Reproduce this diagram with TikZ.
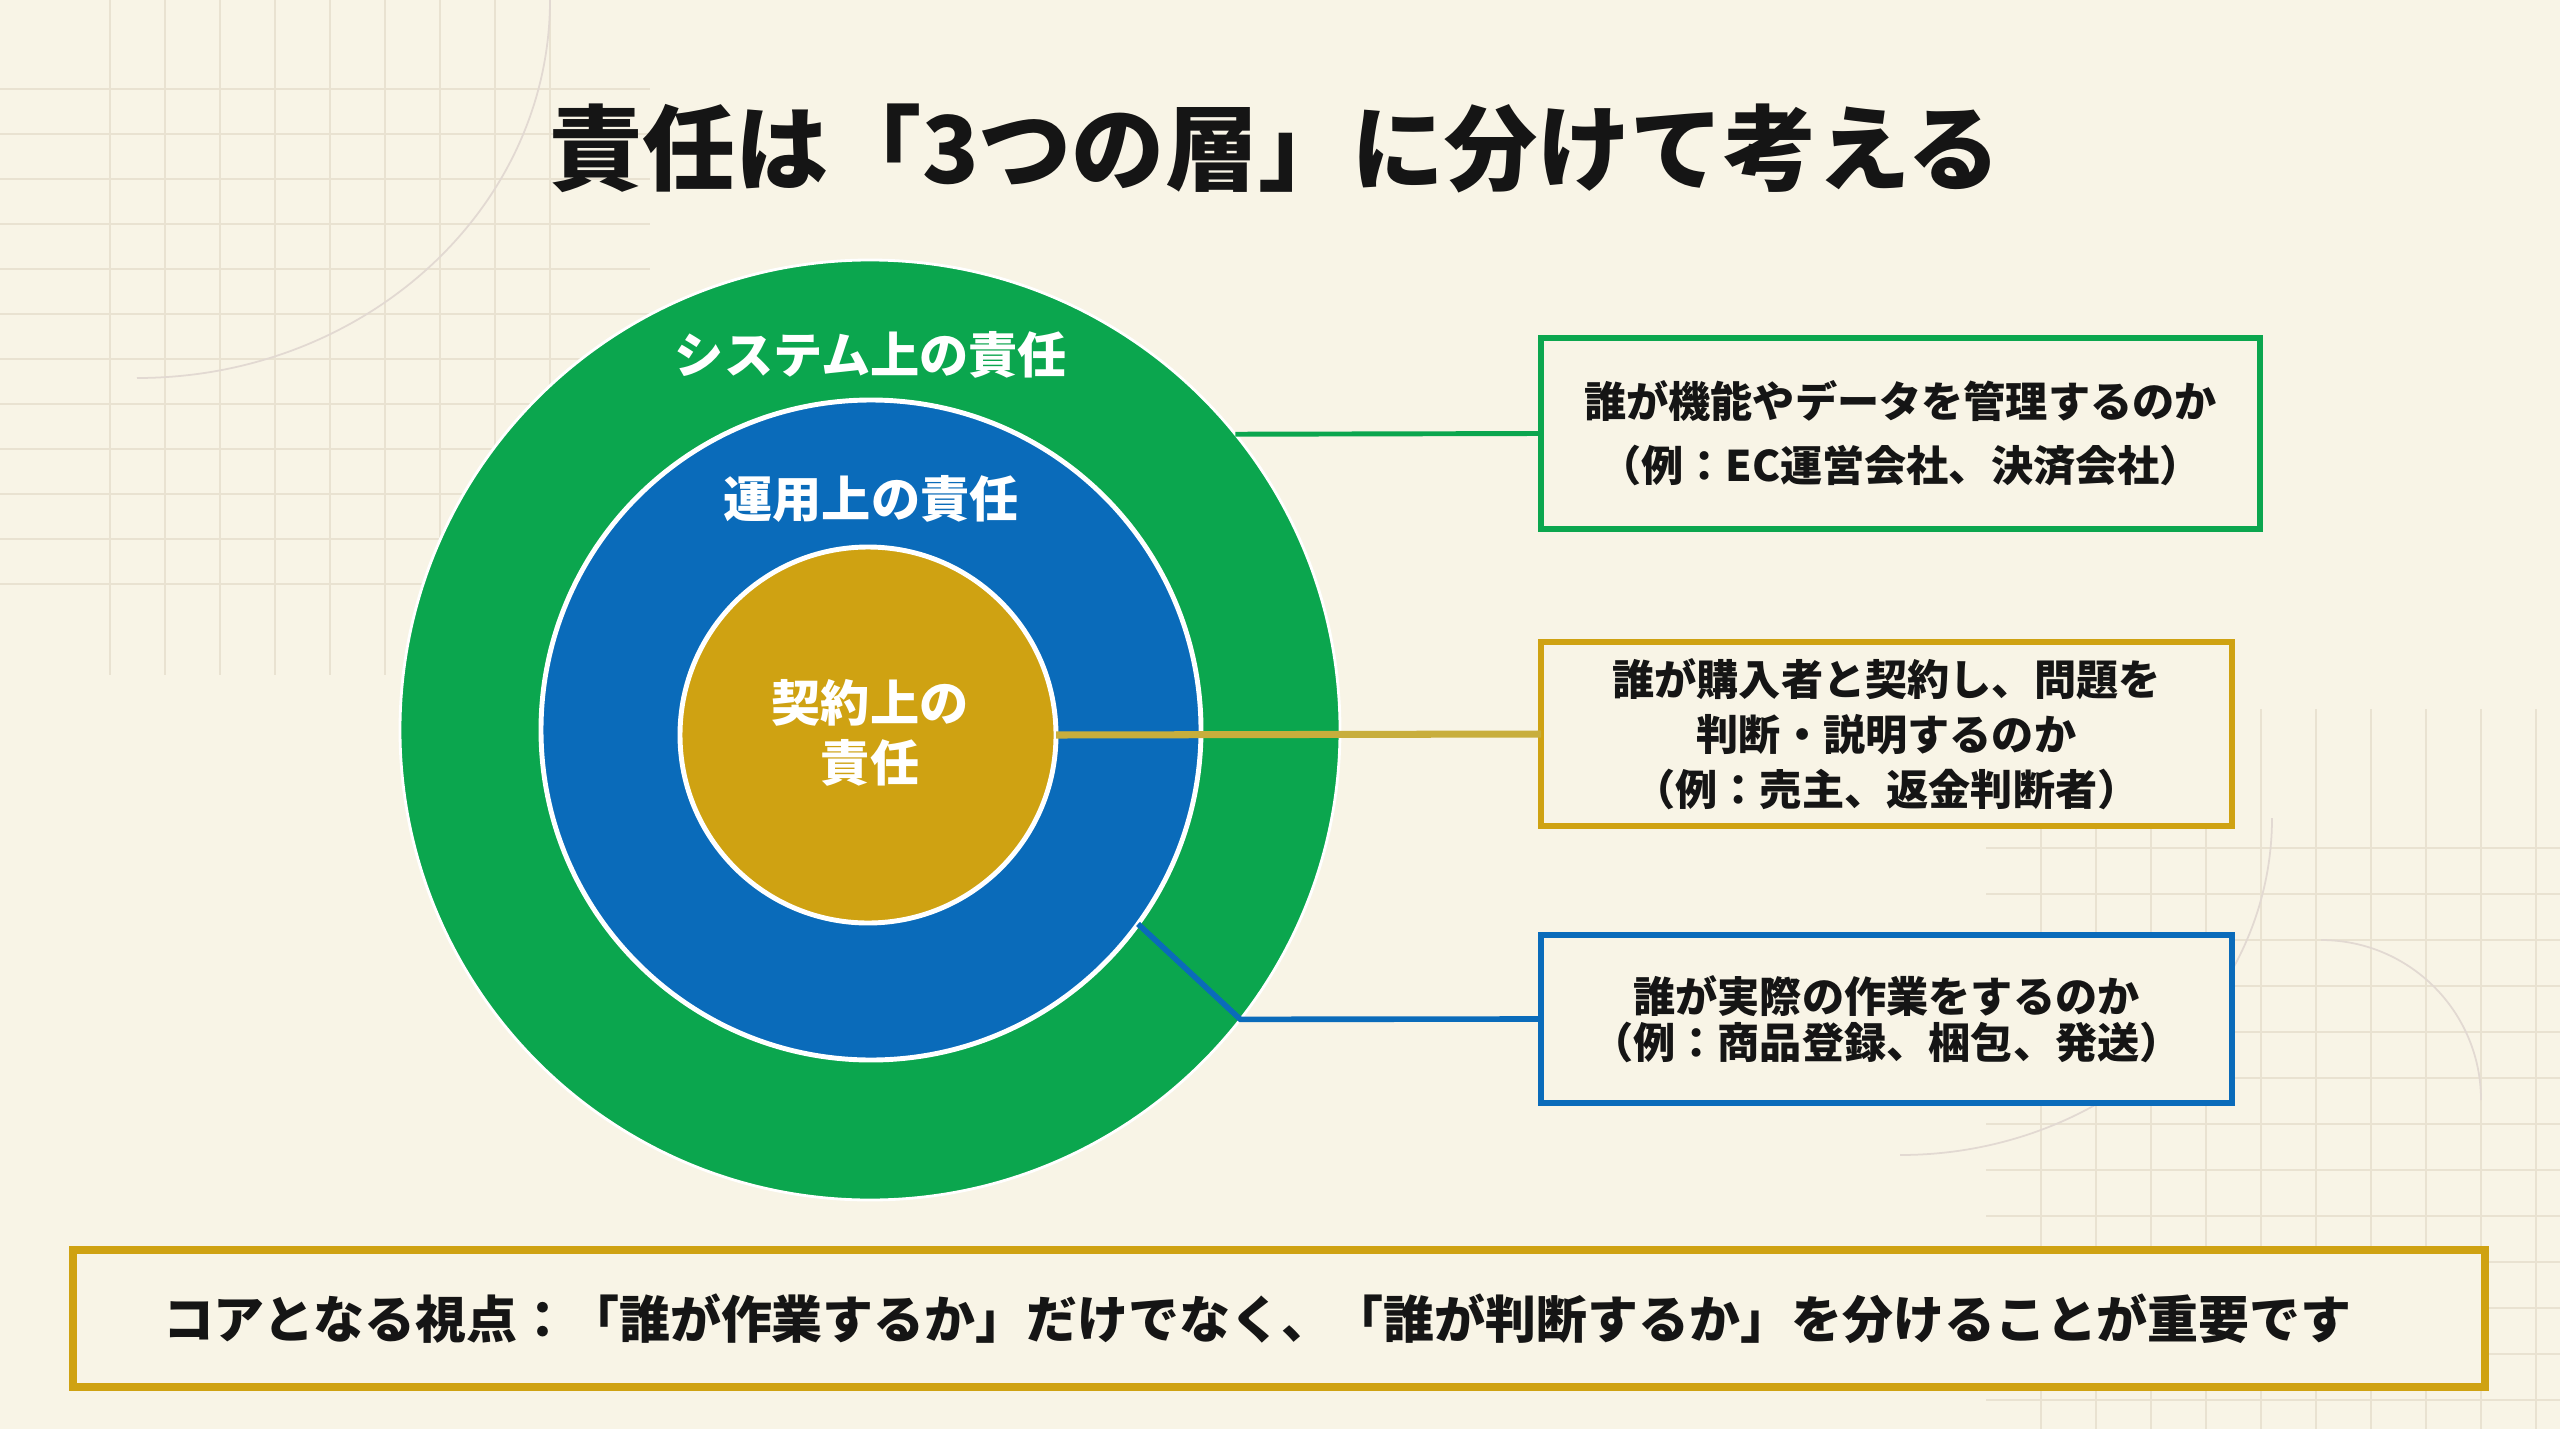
\documentclass[tikz,border=0pt]{standalone}
\usepackage{fontspec}
\setmainfont{Noto Sans CJK JP}
\usetikzlibrary{positioning}
\definecolor{bgcream}{HTML}{F8F4E6}
\definecolor{gridline}{HTML}{E9E2D1}
\definecolor{arcline}{HTML}{E2D9D2}
\definecolor{sysgreen}{HTML}{0BA64E}
\definecolor{opsblue}{HTML}{0A6BBA}
\definecolor{ctrgold}{HTML}{CFA212}
\definecolor{goldline}{HTML}{C8AE3C}
\definecolor{inktext}{HTML}{151515}
\tikzset{
	ring/.style={circle,fill=#1,draw=white,line width=1.4pt,inner sep=0pt,outer sep=0pt},
	ringlabel/.style={text=white,align=center,font=\bfseries\fontsize{14pt}{17pt}\selectfont},
	infobox/.style={draw=#1,line width=1.7pt,fill=bgcream,inner sep=0pt,outer sep=0pt,align=center,text=inktext},
}

\begin{document}
\begin{tikzpicture}
						\useasboundingbox (0,0) rectangle (25.6,-14.29);
						\fill[bgcream] (0,0) rectangle (25.6,-14.29);
						% faint paper grid
						\foreach \x in {1.10,1.65,...,5.55}
						\draw[gridline,line width=.4pt] (\x,0) -- (\x,-6.75);
						\foreach \y in {0.89,1.34,...,5.90}
						\draw[gridline,line width=.4pt] (0,-\y) -- (6.5,-\y);
						\foreach \x in {20.41,20.96,...,25.6}
						\draw[gridline,line width=.4pt] (\x,-7.09) -- (\x,-14.29);
						\foreach \y in {8.48,8.94,...,14.29}
						\draw[gridline,line width=.4pt] (19.86,-\y) -- (25.6,-\y);
						\draw[arcline,line width=.5pt] (5.50,0) arc[start angle=0,end angle=-90,x radius=4.13,y radius=3.78];
						\draw[arcline,line width=.5pt] (22.72,-8.18) arc[start angle=0,end angle=-90,x radius=3.72,y radius=3.37];
						\draw[arcline,line width=.5pt] (23.21,-9.40) arc[start angle=90,end angle=0,radius=1.6];
						% title
						\node[text=inktext,font=\bfseries\fontsize{26.5pt}{30pt}\selectfont] (title) at (12.75,-1.48) {責任は「3つの層」に分けて考える};
						% three layers
						\node[ring=sysgreen,minimum size=9.4cm,line width=.8pt] (system) at (8.70,-7.30) {};
						\node[ring=opsblue,minimum size=6.6cm] (ops) at (8.71,-7.30) {};
						\node[ring=ctrgold,minimum size=3.76cm] (contract) at (8.68,-7.35) {};
						\node[ringlabel] (syslabel) at (8.71,-3.55) {システム上の責任};
						\node[ringlabel] (opslabel) at (8.71,-4.99) {運用上の責任};
						\node[ringlabel] (ctrlabel) at (8.70,-7.33) {契約上の\\責任};
						% explanation boxes
						\node[infobox=sysgreen,minimum width=7.19cm,minimum height=1.91cm,font=\bfseries\fontsize{12pt}{18.2pt}\selectfont] (sysbox) at (19.005,-4.335) {誰が機能やデータを管理するのか\\（例：EC運営会社、決済会社）};
						\node[infobox=ctrgold,minimum width=6.91cm,minimum height=1.84cm,font=\bfseries\fontsize{12pt}{15.6pt}\selectfont] (ctrbox) at (18.865,-7.34) {誰が購入者と契約し、問題を\\判断・説明するのか\\（例：売主、返金判断者）};
						\node[infobox=opsblue,minimum width=6.91cm,minimum height=1.68cm,font=\bfseries\fontsize{12pt}{13.2pt}\selectfont] (opsbox) at (18.865,-10.19) {誰が実際の作業をするのか\\（例：商品登録、梱包、発送）};
						% connectors
						\draw[sysgreen,line width=1.4pt] (system.39) -- (sysbox.west);
						\draw[goldline,line width=2pt] (contract.east) -- (ctrbox.west);
						\draw[opsblue,line width=1.6pt] (ops.-36) -- (system.-38) -- (opsbox.west);
						% key point
						\node[infobox=ctrgold,line width=2.3pt,inner xsep=.9cm,text width=22.32cm,align=left,minimum height=1.37cm,font=\bfseries\fontsize{14.5pt}{18pt}\selectfont] (keybox) at (12.79,-13.185) {コアとなる視点：「誰が作業するか」だけでなく、「誰が判断するか」を分けることが重要です};
					\end{tikzpicture}
\end{document}
